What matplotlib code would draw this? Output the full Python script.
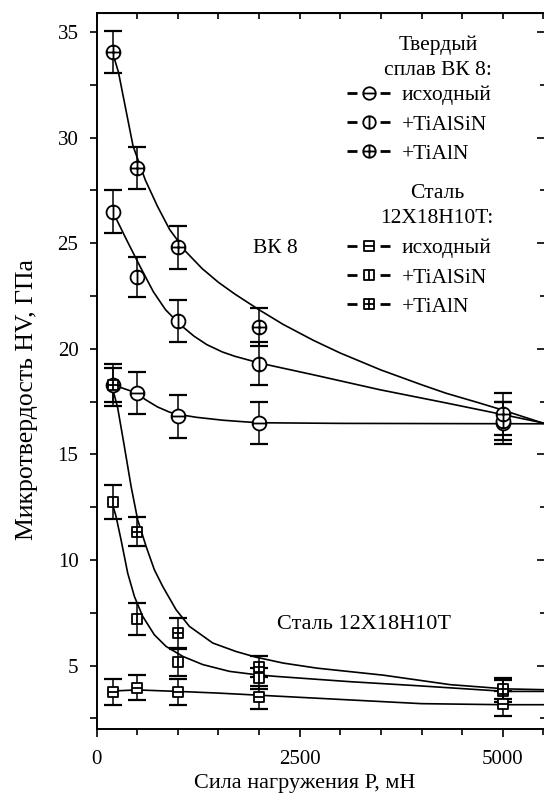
import numpy as np
import matplotlib
matplotlib.use("Agg")
import matplotlib.pyplot as plt
from matplotlib.path import Path
from matplotlib.lines import Line2D
from matplotlib.ticker import MultipleLocator

plt.rcParams['font.family'] = ['Liberation Serif', 'DejaVu Serif']

# ---------------- data ----------------
loads = [200, 500, 1000, 2000, 5000]

wc_orig = [18.3, 17.9, 16.8, 16.5, 16.5]
wc_orig_err = [1.0, 1.0, 1.0, 1.0, 1.0]
wc_tialsin = [26.5, 23.4, 21.3, 19.3, 16.6]
wc_tialsin_err = [1.0, 0.95, 1.0, 1.0, 0.9]
wc_tialn = [34.05, 28.55, 24.8, 21.05, 16.9]
wc_tialn_err = [1.0, 1.0, 1.0, 0.9, 1.0]

st_orig = [3.75, 3.95, 3.75, 3.5, 3.2]
st_orig_err = [0.6, 0.6, 0.6, 0.55, 0.6]
st_tialsin = [12.75, 7.2, 5.15, 4.4, 3.8]
st_tialsin_err = [0.8, 0.75, 0.65, 0.5, 0.5]
st_tialn = [18.3, 11.35, 6.55, 4.95, 3.9]
st_tialn_err = [0.8, 0.7, 0.7, 0.5, 0.5]

# fitted curves
wc_tialn_curve_x = [200, 270, 450, 600, 750, 900, 1100, 1300, 1500, 1700, 2000, 2300,
                    2670, 3000, 3500, 4000, 4300, 4700, 5000, 5520]
wc_tialn_curve_y = [34.0, 33.1, 29.6, 28.0, 26.75, 25.65, 24.6, 23.8, 23.15, 22.6, 21.85, 21.15,
                    20.4, 19.8, 19.0, 18.3, 17.9, 17.45, 17.1, 16.45]
wc_tialsin_curve_x = [200, 230, 370, 536, 700, 850, 1028, 1200, 1357, 1550, 1700, 2013, 2670,
                      3491, 4313, 5010, 5520]
wc_tialsin_curve_y = [26.5, 26.26, 25.16, 23.9, 22.7, 21.85, 21.15, 20.6, 20.2, 19.85, 19.65,
                      19.32, 18.77, 18.06, 17.43, 16.88, 16.47]
wc_orig_curve_x = [200, 500, 600, 750, 900, 1000, 1225, 1554, 1800, 2000, 3000, 5520]
wc_orig_curve_y = [18.3, 17.9, 17.6, 17.25, 17.0, 16.9, 16.76, 16.62, 16.55, 16.5, 16.47, 16.45]

st_tialn_curve_x = [200, 261, 342, 425, 507, 610, 712, 815, 979, 1143, 1431, 1717, 1963,
                    2300, 2716, 3528, 4353, 5031, 5520]
st_tialn_curve_y = [18.1, 17.2, 15.4, 13.5, 11.9, 10.65, 9.54, 8.75, 7.65, 6.86, 6.07, 5.67,
                    5.4, 5.12, 4.88, 4.55, 4.1, 3.9, 3.86]
st_tialsin_curve_x = [200, 240, 302, 384, 466, 569, 712, 856, 1061, 1308, 1635, 1964, 2211,
                      3122, 3947, 5031, 5520]
st_tialsin_curve_y = [12.6, 12.07, 10.96, 9.38, 8.28, 7.33, 6.46, 5.91, 5.44, 5.05, 4.73,
                      4.57, 4.49, 4.24, 4.05, 3.78, 3.78]
st_orig_curve_x = [200, 500, 1000, 1500, 2000, 2500, 3000, 4000, 5000, 5520]
st_orig_curve_y = [3.8, 3.85, 3.78, 3.7, 3.6, 3.5, 3.4, 3.2, 3.15, 3.15]

x_ticks = [0, 2500, 5000]
y_ticks = [5, 10, 15, 20, 25, 30, 35]

legend1_title = "Твердый\nсплав ВК 8:"
legend2_title = "Сталь\n12X18H10T:"
labels = ["исходный", "+TiAlSiN", "+TiAlN"]

# ---------------- markers ----------------
M, L, C = Path.MOVETO, Path.LINETO, Path.CLOSEPOLY
circle = Path.unit_circle()
hline = Path([(-1, 0), (1, 0)], [M, L])
vline = Path([(0, -1), (0, 1)], [M, L])
square = Path([(-1, -1), (1, -1), (1, 1), (-1, 1), (-1, -1)], [M, L, L, L, C])
m_c_h = Path.make_compound_path(circle, hline)
m_c_v = Path.make_compound_path(circle, vline)
m_c_p = Path.make_compound_path(circle, hline, vline)
m_s_h = Path.make_compound_path(square, hline)
m_s_v = Path.make_compound_path(square, vline)
m_s_p = Path.make_compound_path(square, hline, vline)

# ---------------- figure ----------------
fig = plt.figure(figsize=(5.44, 8.10), dpi=100)
W, H = 544, 810
left, right, top, bottom = 96.5, 545.0, 13.0, 729.0
ax = fig.add_axes([left / W, 1 - bottom / H, (right - left) / W, (bottom - top) / H])
ax.set_xlim(0, 5520)
ax.set_ylim(2.0, 35.9)


def fx(px):
    return (px - left) / (right - left)


def fy(py):
    return (bottom - py) / (bottom - top)


lw = 1.2
for cx, cy in [(wc_tialn_curve_x, wc_tialn_curve_y), (wc_tialsin_curve_x, wc_tialsin_curve_y),
               (wc_orig_curve_x, wc_orig_curve_y), (st_tialn_curve_x, st_tialn_curve_y),
               (st_tialsin_curve_x, st_tialsin_curve_y), (st_orig_curve_x, st_orig_curve_y)]:
    ax.plot(cx, cy, color='black', lw=lw, zorder=2, solid_joinstyle='round')

series = [
    (wc_orig, wc_orig_err, m_c_h, 10),
    (wc_tialsin, wc_tialsin_err, m_c_v, 10),
    (wc_tialn, wc_tialn_err, m_c_p, 10),
    (st_orig, st_orig_err, m_s_h, 7.5),
    (st_tialsin, st_tialsin_err, m_s_v, 7.5),
    (st_tialn, st_tialn_err, m_s_p, 7.5),
]
for y, e, mk, ms in series:
    ax.errorbar(loads, y, yerr=e, fmt='none', ecolor='black', elinewidth=1.1,
                capsize=6.5, capthick=1.6, zorder=3)
    ax.plot(loads, y, linestyle='none', marker=mk, ms=ms, mfc='white', mec='black',
            mew=1.3, zorder=4)

# ticks
ax.set_xticks(x_ticks)
ax.xaxis.set_minor_locator(MultipleLocator(500))
ax.set_yticks(y_ticks)
ax.yaxis.set_minor_locator(MultipleLocator(2.5))
ax.tick_params(axis='x', which='major', direction='out', length=6, width=1.2, pad=9, labelsize=15)
ax.tick_params(axis='x', which='minor', direction='out', length=4, width=1.2)
ax.tick_params(axis='y', which='both', direction='out', length=5, width=1.2, pad=8, labelsize=15)
for s in ax.spines.values():
    s.set_linewidth(1.4)

secx = ax.secondary_xaxis('top')
secx.set_xticks(x_ticks)
secx.xaxis.set_minor_locator(MultipleLocator(500))
secx.tick_params(which='both', direction='in', length=4, width=1.2, labeltop=False)
secx.set_xticklabels([])
secy = ax.secondary_yaxis('right')
secy.set_yticks(y_ticks)
secy.yaxis.set_minor_locator(MultipleLocator(2.5))
secy.tick_params(which='major', direction='in', length=6, width=1.2)
secy.tick_params(which='minor', direction='in', length=3.5, width=1.2)
secy.set_yticklabels([])

ax.set_xlabel("Сила нагружения Р, мН", fontsize=16)
ax.xaxis.set_label_coords(fx(305), fy(774))
ax.set_ylabel("Микротвердость HV, ГПа", fontsize=18.5)
ax.yaxis.set_label_coords(fx(38), fy(400))

# annotations
ax.text(2203, 24.73, "ВК 8", fontsize=15.5, ha='center', va='center')
ax.text(3292, 6.94, "Сталь 12X18H10T", fontsize=16, ha='center', va='center')

# legend headings
ax.text(fx(438), fy(57.5), legend1_title, transform=ax.transAxes, fontsize=15.5,
        ha='center', va='center', multialignment='center', linespacing=1.45)
ax.text(fx(437), fy(206), legend2_title, transform=ax.transAxes, fontsize=15.5,
        ha='center', va='center', multialignment='center', linespacing=1.45)


# legends
def handle(mk, ms):
    return Line2D([], [], color='black', lw=2.0, marker=mk, ms=ms, mfc='white',
                  mec='black', mew=1.3, linestyle=(0, (3.6, 8.3)))


h1 = [handle(m_c_h, 9), handle(m_c_v, 9), handle(m_c_p, 9)]
h2 = [handle(m_s_h, 7), handle(m_s_v, 7), handle(m_s_p, 7)]
common = dict(frameon=False, fontsize=15.5, handlelength=2.0,
              handletextpad=0.55, labelspacing=0.42, borderpad=0, borderaxespad=0,
              loc='center left', numpoints=1)
leg1 = ax.legend(h1, labels, bbox_to_anchor=(fx(347), fy(124.5)), **common)
ax.add_artist(leg1)
leg2 = ax.legend(h2, labels, bbox_to_anchor=(fx(347), fy(277.5)), **common)

fig.savefig("out.png", dpi=100)
